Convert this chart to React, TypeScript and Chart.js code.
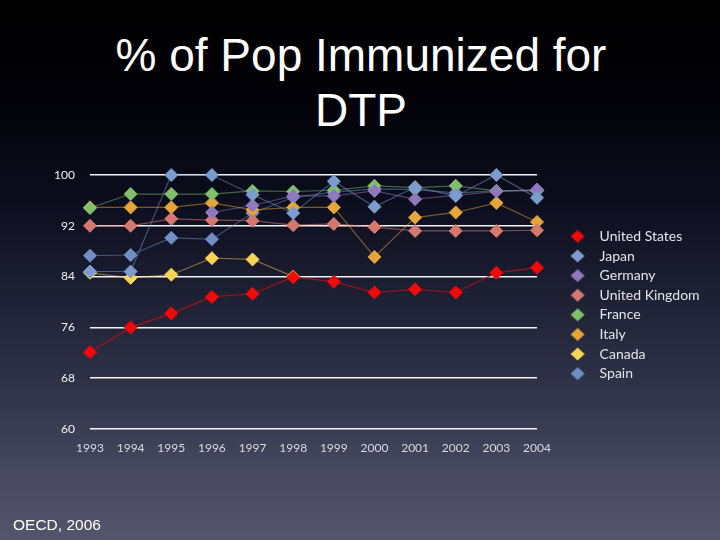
import { useEffect, useRef } from 'react';
import { Chart, registerables } from 'chart.js';

Chart.register(...registerables);

const years = ['1993', '1994', '1995', '1996', '1997', '1998', '1999', '2000', '2001', '2002', '2003', '2004'];
const yTicks = [60, 68, 76, 84, 92, 100];

const unitedStates = [72.1, 76.0, 78.2, 80.8, 81.3, 83.9, 83.2, 81.5, 82.0, 81.5, 84.6, 85.4];
const japan = [84.8, 84.8, 100, 100, 96.9, 94.0, 99.0, 95.0, 98.1, 96.7, 100, 96.4];
const germany = [null, null, null, 94.1, 95.2, 96.7, 96.7, 97.5, 96.2, 96.8, 97.4, 97.7];
const unitedKingdom = [92.0, 92.0, 93.1, 92.9, 92.8, 92.1, 92.3, 91.8, 91.2, 91.2, 91.2, 91.3];
const france = [94.8, 97.0, 97.0, 97.0, 97.5, 97.4, 97.6, 98.3, 98.0, 98.3, 97.5, 97.6];
const italy = [94.9, 94.9, 94.9, 95.6, 94.5, 94.9, 94.9, 87.1, 93.3, 94.1, 95.6, 92.6];
const canada = [84.6, 83.8, 84.3, 86.9, 86.7, 84.0, null, null, null, null, null, null];
const spain = [87.3, 87.4, 90.1, 89.9, 94.0, 96.5, 97.3, 97.8, 97.7, 97.2, 97.5, 97.5];

const seriesNames = ['United States', 'Japan', 'Germany', 'United Kingdom', 'France', 'Italy', 'Canada', 'Spain'];
const seriesValues = [unitedStates, japan, germany, unitedKingdom, france, italy, canada, spain];
const seriesColors = ['#f00a0a', '#7a9ccf', '#8f78bd', '#d6786e', '#80bf6c', '#e6a537', '#f7d454', '#6f8fc4'];
const lineColors = ['rgba(170,20,20,0.9)', 'rgba(122,156,207,0.5)', 'rgba(143,120,189,0.5)', 'rgba(214,120,110,0.55)', 'rgba(128,191,108,0.5)', 'rgba(230,165,55,0.5)', 'rgba(247,212,84,0.45)', 'rgba(111,143,196,0.5)'];

const LEGEND_FONT = 14;
const LEGEND_PAD = 5.6;
const LEGEND_BOX = 30;
const AREA_RIGHT = 537;
const GAP = 20;

function diamond(color: string): HTMLCanvasElement {
  const c = document.createElement('canvas');
  c.width = 16;
  c.height = 16;
  const g = c.getContext('2d')!;
  g.fillStyle = color;
  g.beginPath();
  g.moveTo(1, 8);
  g.lineTo(8, 1.5);
  g.lineTo(15, 8);
  g.lineTo(8, 14.5);
  g.closePath();
  g.fill();
  return c;
}

// Centre the legend on the plot area rather than on the plot area plus x axis.
const legendOnPlotArea = {
  id: 'legendOnPlotArea',
  afterLayout(chart: any) {
    const lg = chart.legend;
    if (!lg) return;
    lg.top = chart.chartArea.top + 3;
    lg.bottom = chart.chartArea.bottom + 3;
    lg.height = lg.bottom - lg.top;
  },
};

export default function App() {
  const ref = useRef<HTMLCanvasElement | null>(null);

  useEffect(() => {
    if (!ref.current) return;
    const images = seriesColors.map(diamond);

    const m = document.createElement('canvas').getContext('2d')!;
    m.font = `${LEGEND_FONT}px Lato`;
    const maxText = Math.max(...seriesNames.map((n) => m.measureText(n).width));
    const legendW = LEGEND_PAD + LEGEND_BOX + LEGEND_FONT / 2 + maxText + 10;
    const padRight = Math.max(0, 720 - AREA_RIGHT - GAP - legendW);

    const chart = new Chart(ref.current, {
      type: 'line',
      data: {
        labels: years,
        datasets: seriesNames.map((name, i) => ({
          label: name,
          data: seriesValues[i],
          borderColor: lineColors[i],
          backgroundColor: seriesColors[i],
          pointBackgroundColor: seriesColors[i],
          pointBorderColor: seriesColors[i],
          pointBorderWidth: 1,
          borderWidth: 1.2,
          pointStyle: 'rectRot',
          pointRadius: 6.5,
          tension: 0,
          spanGaps: false,
          clip: false,
          yAxisID: 'y',
        })),
      },
      plugins: [legendOnPlotArea],
      options: {
        responsive: false,
        animation: false,
        devicePixelRatio: 1,
        layout: { padding: { left: 50, top: 175, bottom: 81, right: padRight } },
        scales: {
          x: {
            offset: false,
            grid: { display: false },
            border: { display: false },
            ticks: {
              color: '#d9d9e2',
              font: { family: 'Lato', size: 12 },
              padding: 4,
              maxRotation: 0,
              autoSkip: false,
            },
            afterFit: (s: any) => {
              s.height = 30;
            },
          },
          y: {
            min: yTicks[0],
            max: yTicks[yTicks.length - 1],
            afterBuildTicks: (s: any) => {
              s.ticks = yTicks.map((v) => ({ value: v }));
            },
            grid: { color: 'rgba(255,255,255,0.95)', lineWidth: 1.6, drawTicks: false },
            border: { display: false },
            ticks: {
              color: '#f0f0f4',
              font: { family: 'Lato', size: 12 },
              padding: 15,
            },
            afterFit: (s: any) => {
              s.width = 40;
            },
          },
          gap: {
            type: 'linear',
            position: 'right',
            display: true,
            grid: { display: false },
            border: { display: false },
            ticks: { display: false },
            afterFit: (s: any) => {
              s.width = GAP;
            },
          },
        },
        plugins: {
          title: { display: false },
          tooltip: { enabled: false },
          legend: {
            display: true,
            position: 'right',
            maxWidth: 260,
            onClick: () => {},
            labels: {
              color: '#e4e4ec',
              font: { family: 'Lato', size: LEGEND_FONT },
              padding: LEGEND_PAD,
              usePointStyle: true,
              pointStyleWidth: LEGEND_BOX,
              generateLabels: (c: any) => {
                const items = Chart.defaults.plugins.legend.labels.generateLabels(c);
                return items.map((it: any, i: number) => ({ ...it, pointStyle: images[i], lineWidth: 0 }));
              },
            },
          },
        },
      },
    });
    return () => chart.destroy();
  }, []);

  return (
    <div
      style={{
        position: 'absolute',
        left: 0,
        top: 0,
        width: 720,
        height: 540,
        overflow: 'hidden',
        background:
          'linear-gradient(180deg, #000000 0%, #020208 18%, #0d0e1e 38%, #1e2034 55%, #34364c 75%, #4b4c63 90%, #54556b 100%)',
      }}
    >
      <div
        style={{
          position: 'absolute',
          left: 1,
          top: 28,
          width: 720,
          textAlign: 'center',
          color: '#ffffff',
          fontFamily: '"Liberation Sans", Arial, sans-serif',
          fontSize: 46,
          lineHeight: '55px',
        }}
      >
        % of Pop Immunized for
        <br />
        DTP
      </div>
      <canvas ref={ref} width={720} height={540} style={{ position: 'absolute', left: 0, top: 0, width: 720, height: 540 }} />
      <div
        style={{
          position: 'absolute',
          left: 13,
          top: 517,
          color: '#ffffff',
          fontFamily: '"Liberation Sans", Arial, sans-serif',
          fontSize: 15.5,
          lineHeight: '16px',
          whiteSpace: 'nowrap',
        }}
      >
        OECD, 2006
      </div>
    </div>
  );
}
